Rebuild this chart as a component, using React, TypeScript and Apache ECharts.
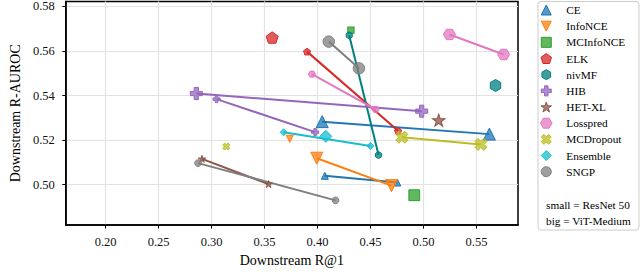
import React, { useEffect, useRef } from "react";
import * as echarts from "echarts";

// Axis ranges and tick labels
const xRange = [0.1624, 0.5892];
const yRange = [0.4819, 0.5822];
const xTickValues = [0.2, 0.25, 0.3, 0.35, 0.4, 0.45, 0.5, 0.55];
const yTickValues = [0.5, 0.52, 0.54, 0.56, 0.58];

// Methods (legend order)
const methodNames = ["CE", "InfoNCE", "MCInfoNCE", "ELK", "nivMF", "HIB", "HET-XL", "Losspred", "MCDropout", "Ensemble", "SNGP"];
const methodColors = ["#1f77b4", "#ff7f0e", "#2ca02c", "#d62728", "#008080", "#9467bd", "#8c564b", "#e377c2", "#bcbd22", "#17becf", "#7f7f7f"];

// [R@1, R-AUROC] — big = ViT-Medium, small = ResNet 50
const ceBig = [[0.4044, 0.5283], [0.5622, 0.5227]];
const ceSmall = [[0.4069, 0.504], [0.4753, 0.501]];
const infoNCEBig = [[0.3993, 0.5119], [0.4698, 0.4996]];
const infoNCESmall = [[0.3738, 0.5206]];
const mcInfoNCEBig = [[0.4913, 0.4953]];
const mcInfoNCESmall = [[0.4315, 0.5693]];
const elkBig = [[0.3572, 0.566]];
const elkSmall = [[0.3901, 0.5597], [0.476, 0.5242]];
const nivMFBig = [[0.568, 0.5445]];
const nivMFSmall = [[0.4299, 0.567], [0.4576, 0.5133]];
const hibBig = [[0.2856, 0.5409], [0.4983, 0.533]];
const hibSmall = [[0.3047, 0.5384], [0.3977, 0.5236]];
const hetXLBig = [[0.5144, 0.529]];
const hetXLSmall = [[0.2909, 0.5116], [0.3538, 0.5003]];
const lossBig = [[0.5245, 0.5674], [0.5757, 0.5584]];
const lossSmall = [[0.3947, 0.5496], [0.4548, 0.5338]];
const mcdBig = [[0.4796, 0.5213], [0.5542, 0.5181]];
const mcdSmall = [[0.3139, 0.5171]];
const ensBig = [[0.4078, 0.5217]];
const ensSmall = [[0.368, 0.5235], [0.4499, 0.5174]];
const sngpBig = [[0.4106, 0.5642], [0.4391, 0.5522]];
const sngpSmall = [[0.2872, 0.5097], [0.417, 0.493]];

const bigData = [ceBig, infoNCEBig, mcInfoNCEBig, elkBig, nivMFBig, hibBig, hetXLBig, lossBig, mcdBig, ensBig, sngpBig];
const smallData = [ceSmall, infoNCESmall, mcInfoNCESmall, elkSmall, nivMFSmall, hibSmall, hetXLSmall, lossSmall, mcdSmall, ensSmall, sngpSmall];

const SYM_TRI_UP = "path://M0,-1L1,1L-1,1Z";
const SYM_TRI_DOWN = "path://M-1,-1L1,-1L0,1Z";
const SYM_SQUARE = "path://M-1,-1L1,-1L1,1L-1,1Z";
const SYM_DIAMOND = "path://M0,-1L1,0L0,1L-1,0Z";
const SYM_PENTAGON = "path://M0,-1L0.951,-0.309L0.588,0.809L-0.588,0.809L-0.951,-0.309Z";
const SYM_HEX = "path://M0,-1L0.866,-0.5L0.866,0.5L0,1L-0.866,0.5L-0.866,-0.5Z";
const SYM_HEX2 = "path://M-1,0L-0.5,-0.866L0.5,-0.866L1,0L0.5,0.866L-0.5,0.866Z";
const SYM_PLUS = "path://M-0.35,-1L0.35,-1L0.35,-0.35L1,-0.35L1,0.35L0.35,0.35L0.35,1L-0.35,1L-0.35,0.35L-1,0.35L-1,-0.35L-0.35,-0.35Z";
const SYM_STAR = "path://M0,-1L0.2245,-0.309L0.951,-0.309L0.3633,0.118L0.5878,0.809L0,0.382L-0.5878,0.809L-0.3633,0.118L-0.951,-0.309L-0.2245,-0.309Z";
const SYM_X = "path://M0.46,-0.955L0.955,-0.46L0.495,0L0.955,0.46L0.46,0.955L0,0.495L-0.46,0.955L-0.955,0.46L-0.495,0L-0.955,-0.46L-0.46,-0.955L0,-0.495Z";
const methodSymbols = [SYM_TRI_UP, SYM_TRI_DOWN, SYM_SQUARE, SYM_PENTAGON, SYM_HEX, SYM_PLUS, SYM_STAR, SYM_HEX2, SYM_X, SYM_DIAMOND, "circle"];
const symbolScale = [1, 1, 0.9, 1, 1, 1, 1.05, 1, 1, 1, 0.95];

const FONT = "Liberation Serif";

function rgba(hex: string, a: number) {
  const n = parseInt(hex.slice(1), 16);
  return `rgba(${(n >> 16) & 255},${(n >> 8) & 255},${n & 255},${a})`;
}

export default function App() {
  const ref = useRef<HTMLDivElement>(null);
  useEffect(() => {
    document.body.style.margin = "0";
    const chart = echarts.init(ref.current!, null, { renderer: "svg" });
    const series: any[] = [];
    methodNames.forEach((name, i) => {
      const c = methodColors[i];
      const mk = (data: number[][], size: number) => ({
        type: "line",
        name,
        data,
        symbol: methodSymbols[i],
        symbolSize: size * symbolScale[i],
        symbolKeepAspect: true,
        showSymbol: true,
        silent: true,
        itemStyle: { color: rgba(c, 0.75), borderColor: c, borderWidth: 1 },
        lineStyle: { color: c, width: 2 },
        emphasis: { disabled: true },
      });
      if (smallData[i].length) series.push(mk(smallData[i], 7));
      if (bigData[i].length) series.push(mk(bigData[i], 12));
    });
    const axisCommon = {
      type: "value",
      axisLine: { show: true, lineStyle: { color: "#000", width: 1.5 } },
      axisTick: { show: true, inside: false, length: 3.5, lineStyle: { color: "#000", width: 1 } },
      splitLine: { show: true, lineStyle: { color: "#e3e3e3", width: 1.2 } },
      nameLocation: "middle",
      nameTextStyle: { fontFamily: FONT, fontSize: 14, color: "#000" },
    };
    const legendText = { fontFamily: FONT, fontSize: 11.3, color: "#000", lineHeight: 12 };
    chart.setOption({
      animation: false,
      textStyle: { fontFamily: FONT },
      grid: { left: 54.5, right: 122, top: 1, bottom: 40.3, show: true, borderColor: "#000", borderWidth: 1.5, backgroundColor: "transparent" },
      xAxis: {
        ...axisCommon,
        min: xRange[0],
        max: xRange[1],
        splitNumber: 8,
        name: "Downstream R@1",
        nameGap: 26,
        axisTick: { ...axisCommon.axisTick, customValues: xTickValues },
        axisLabel: { customValues: xTickValues, formatter: (v: number) => v.toFixed(2), fontFamily: FONT, fontSize: 12.5, color: "#111", margin: 10 },
      },
      yAxis: {
        ...axisCommon,
        min: yRange[0],
        max: yRange[1],
        splitNumber: 5,
        name: "Downstream R-AUROC",
        nameGap: 42,
        axisTick: { ...axisCommon.axisTick, customValues: yTickValues },
        axisLabel: { customValues: yTickValues, formatter: (v: number) => v.toFixed(2), fontFamily: FONT, fontSize: 12.5, color: "#111", margin: 11 },
      },
      legend: {
        orient: "vertical",
        left: 540,
        top: 4,
        padding: 0,
        itemWidth: 30,
        itemHeight: 10,
        itemGap: 4.17,
        selectedMode: false,
        symbolKeepAspect: true,
        z: 10,
        textStyle: legendText,
        data: methodNames.map((n, i) => ({
          name: n,
          icon: methodSymbols[i],
          textStyle: legendText,
          itemStyle: { color: rgba(methodColors[i], 0.75), borderColor: methodColors[i], borderWidth: 1 },
        })),
      },
      graphic: [
        { type: "rect", z: 5, shape: { x: 538, y: 1.5, width: 101, height: 228.5, r: 3 }, style: { fill: "rgba(255,255,255,0.8)", stroke: "#cccccc", lineWidth: 1 } },
        { type: "text", z: 6, x: 546, y: 205, style: { text: "small = ResNet 50", fontFamily: FONT, fontSize: 11.3, fill: "#000", verticalAlign: "middle", align: "left" } },
        { type: "text", z: 6, x: 546, y: 221, style: { text: "big = ViT-Medium", fontFamily: FONT, fontSize: 11.3, fill: "#000", verticalAlign: "middle", align: "left" } },
      ],
      series,
    });
    return () => chart.dispose();
  }, []);
  return <div ref={ref} style={{ position: "absolute", left: 0, top: 0, width: 640, height: 272 }} />;
}
